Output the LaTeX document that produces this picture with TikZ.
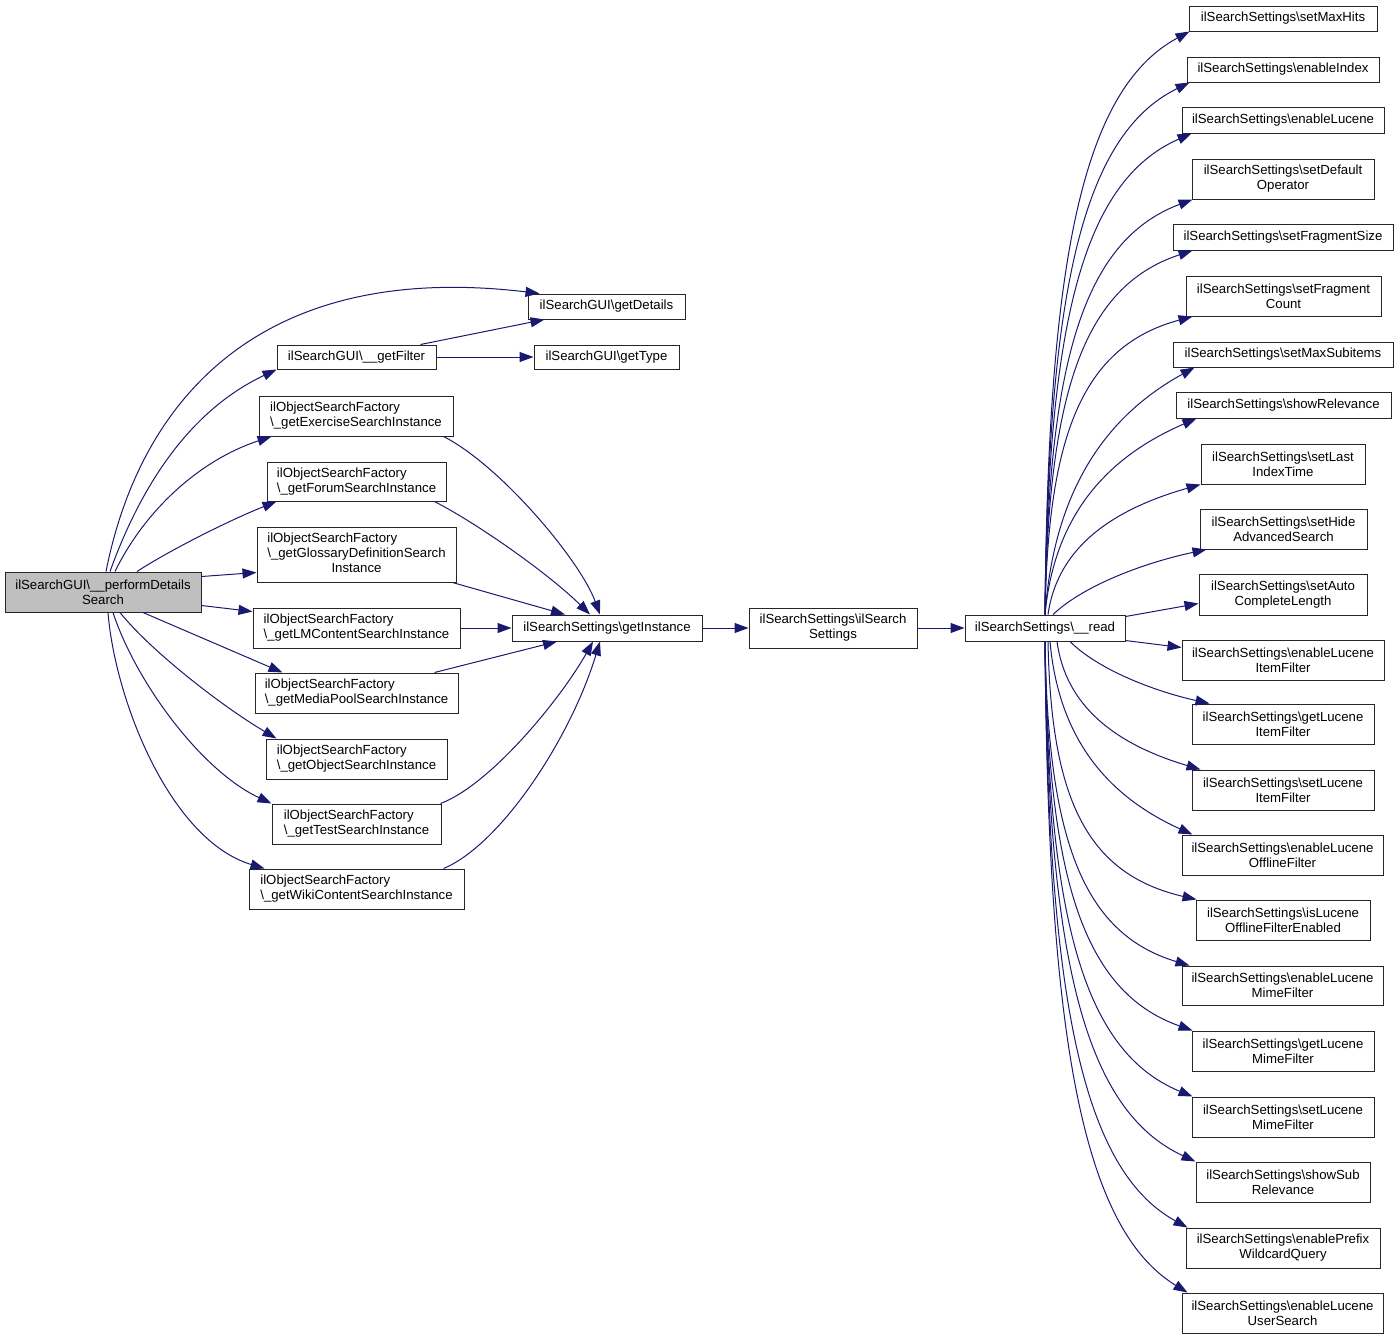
\documentclass[tikz,border=0pt]{standalone}
\usepackage{fontspec}
\setmainfont{Liberation Sans}
\usetikzlibrary{arrows.meta,calc}
\definecolor{edgec}{RGB}{25,25,112}
\definecolor{mainfill}{RGB}{191,191,191}
\newcommand\bksl{\textbackslash{}}
\tikzset{
  box/.style={draw=black!85, line width=1pt, inner sep=0pt, font=\fontsize{13.2}{15}\selectfont, align=center},
  lbox/.style={box, align=left},
  arr/.style={draw=edgec, line width=1pt, -{Triangle[length=14pt,width=10pt]}},
}
\newcommand\bx[7][box]{\node[#1, minimum width={(#5-#3)*1pt}, minimum height={(#6-#4)*1pt}] (#2) at ({(#3+#5)/2},{(#4+#6)/2}) {#7};}
\newcommand\crv[6]{\draw[arr] let \p1=(#1), \p2=(#2) in (\p1) .. controls ({\x1+#3*(\x2-\x1)},{\y1+#4*(\y2-\y1)}) and ({\x1+#5*(\x2-\x1)},{\y1+#6*(\y2-\y1)}) .. (\p2);}
\newcommand\fanL[2]{\crv{#1}{#2}{0.02}{0.6}{0.25}{0.9}}
\newcommand\fanM[2]{\crv{#1}{#2}{0.06}{0.5}{0.4}{0.8}}
\newcommand\fanS[2]{\crv{#1}{#2}{0.2}{0.45}{0.6}{0.8}}
\begin{document}
\begin{tikzpicture}[x=1pt,y=-1pt]
\useasboundingbox (0,0) rectangle (1399,1339);
% left and middle nodes
\bx[box,fill=mainfill]{main}{5}{572}{201}{612}{ilSearchGUI\bksl\_\_performDetails\\Search}
\bx{getDetails}{528}{294}{685}{319}{ilSearchGUI\bksl getDetails}
\bx{getFilter}{277}{345}{436}{369}{ilSearchGUI\bksl\_\_getFilter}
\bx{getType}{534}{345}{679}{369}{ilSearchGUI\bksl getType}
\bx[lbox]{getExercise}{259}{396}{453}{436}{ilObjectSearchFactory\\\bksl\_getExerciseSearchInstance}
\bx[lbox]{getForum}{267}{462}{446}{501}{ilObjectSearchFactory\\\bksl\_getForumSearchInstance}
\bx{getGlossary}{257}{527}{456}{582}{\begin{tabular}{@{}l@{}}ilObjectSearchFactory\\\bksl\_getGlossaryDefinitionSearch\\\multicolumn{1}{@{}c@{}}{Instance}\end{tabular}}
\bx[lbox]{getLM}{253}{608}{460}{648}{ilObjectSearchFactory\\\bksl\_getLMContentSearchInstance}
\bx[lbox]{getMedia}{255}{673}{458}{713}{ilObjectSearchFactory\\\bksl\_getMediaPoolSearchInstance}
\bx[lbox]{getObject}{266}{739}{447}{779}{ilObjectSearchFactory\\\bksl\_getObjectSearchInstance}
\bx[lbox]{getTest}{272}{804}{441}{844}{ilObjectSearchFactory\\\bksl\_getTestSearchInstance}
\bx[lbox]{getWiki}{249}{869}{464}{909}{ilObjectSearchFactory\\\bksl\_getWikiContentSearchInstance}
\bx{getInstance}{512}{615}{702}{641}{ilSearchSettings\bksl getInstance}
\bx{ilss}{749}{608}{917}{648}{ilSearchSettings\bksl ilSearch\\Settings}
\bx{read}{965}{615}{1125}{641}{ilSearchSettings\bksl\_\_read}
% right column
\bx{t01}{1189}{6}{1377}{31}{ilSearchSettings\bksl setMaxHits}
\bx{t02}{1187}{57}{1379}{82}{ilSearchSettings\bksl enableIndex}
\bx{t03}{1182}{107}{1384}{133}{ilSearchSettings\bksl enableLucene}
\bx{t04}{1192}{159}{1374}{199}{ilSearchSettings\bksl setDefault\\Operator}
\bx{t05}{1173}{224}{1393}{250}{ilSearchSettings\bksl setFragmentSize}
\bx{t06}{1186}{276}{1381}{316}{ilSearchSettings\bksl setFragment\\Count}
\bx{t07}{1173}{342}{1393}{367}{ilSearchSettings\bksl setMaxSubitems}
\bx{t08}{1176}{392}{1391}{418}{ilSearchSettings\bksl showRelevance}
\bx{t09}{1201}{444}{1365}{484}{ilSearchSettings\bksl setLast\\IndexTime}
\bx{t10}{1200}{509}{1367}{549}{ilSearchSettings\bksl setHide\\AdvancedSearch}
\bx{t11}{1199}{574}{1367}{615}{ilSearchSettings\bksl setAuto\\CompleteLength}
\bx{t12}{1182}{640}{1384}{680}{ilSearchSettings\bksl enableLucene\\ItemFilter}
\bx{t13}{1192}{704}{1374}{744}{ilSearchSettings\bksl getLucene\\ItemFilter}
\bx{t14}{1192}{770}{1374}{810}{ilSearchSettings\bksl setLucene\\ItemFilter}
\bx{t15}{1182}{835}{1383}{875}{ilSearchSettings\bksl enableLucene\\OfflineFilter}
\bx{t16}{1196}{900}{1370}{940}{ilSearchSettings\bksl isLucene\\OfflineFilterEnabled}
\bx{t17}{1182}{966}{1383}{1005}{ilSearchSettings\bksl enableLucene\\MimeFilter}
\bx{t18}{1192}{1031}{1374}{1071}{ilSearchSettings\bksl getLucene\\MimeFilter}
\bx{t19}{1192}{1097}{1374}{1137}{ilSearchSettings\bksl setLucene\\MimeFilter}
\bx{t20}{1196}{1162}{1370}{1202}{ilSearchSettings\bksl showSub\\Relevance}
\bx{t21}{1186}{1228}{1380}{1268}{ilSearchSettings\bksl enablePrefix\\WildcardQuery}
\bx{t22}{1182}{1293}{1383}{1333}{ilSearchSettings\bksl enableLucene\\UserSearch}
% edges from main
\draw[arr] ([xshift=3pt]main.north) .. controls (140,400) and (260,260) .. ([xshift=12pt]getDetails.north west);
\draw[arr] ([xshift=7pt]main.north) .. controls (143,480) and (193,409) .. (getFilter.south west);
\draw[arr] ([xshift=12pt]main.north) .. controls (145,510) and (200,460) .. ([xshift=13pt]getExercise.south west);
\draw[arr] ([xshift=34pt]main.north) .. controls (170,550) and (230,520) .. ([xshift=10pt]getForum.south west);
\draw[arr] ([yshift=-5pt]main.north east) -- ([yshift=10pt]getGlossary.south west);
\draw[arr] ([yshift=7pt]main.south east) -- ([yshift=-4pt]getLM.north west);
\draw[arr] ([xshift=40pt]main.south) -- ([xshift=28pt]getMedia.north west);
\draw[arr] ([xshift=17pt]main.south) .. controls (150,650) and (220,705) .. ([xshift=11pt]getObject.north west);
\draw[arr] ([xshift=10pt]main.south) .. controls (135,680) and (200,770) .. (getTest.north west);
\draw[arr] ([xshift=5pt]main.south) .. controls (115,700) and (170,840) .. ([xshift=16pt]getWiki.north west);
% getFilter
\draw[arr] ([xshift=-16pt]getFilter.north east) -- ([xshift=17pt]getDetails.south west);
\draw[arr] (getFilter.east) -- (getType.west);
% into getInstance
\draw[arr] ([xshift=-10pt]getExercise.south east) .. controls (500,465) and (580,560) .. ([xshift=-7pt]getInstance.north);
\draw[arr] ([xshift=-12pt]getForum.south east) .. controls (480,525) and (550,575) .. ([xshift=-17pt]getInstance.north);
\draw[arr] ([xshift=-4pt]getGlossary.south east) -- ([xshift=-42pt]getInstance.north);
\draw[arr] (getLM.east) -- (getInstance.west);
\draw[arr] ([xshift=-24pt]getMedia.north east) -- ([xshift=-50pt]getInstance.south);
\draw[arr] ([xshift=-1pt]getTest.north east) .. controls (490,785) and (560,700) .. ([xshift=-14pt]getInstance.south);
\draw[arr] ([xshift=-21pt]getWiki.north east) .. controls (500,845) and (570,740) .. ([xshift=-7pt]getInstance.south);
% chain
\draw[arr] (getInstance.east) -- (ilss.west);
\draw[arr] (ilss.east) -- (read.west);
% fan upward
\fanL{read.north}{[xshift=1pt]t01.south west}
\fanL{read.north}{[xshift=3pt]t02.south west}
\fanL{read.north}{[xshift=10pt]t03.south west}
\fanL{read.north}{[xshift=1pt]t04.south west}
\fanL{read.north}{[xshift=20pt]t05.south west}
\fanL{read.north}{[xshift=7pt]t06.south west}
\fanM{read.north}{[xshift=22pt]t07.south west}
\fanM{read.north}{[xshift=21pt]t08.south west}
\fanM{[xshift=3pt]read.north}{t09.south west}
\fanS{[xshift=8pt]read.north}{[xshift=7pt]t10.south west}
\draw[arr] ([yshift=-2pt]read.north east) -- ([yshift=12pt]t11.south west);
\draw[arr] ([yshift=1pt]read.south east) -- ([yshift=-8pt]t12.north west);
% fan downward
\fanS{[xshift=25pt]read.south}{[xshift=18pt]t13.north west}
\fanM{[xshift=12pt]read.south}{[xshift=9pt]t14.north west}
\fanM{[xshift=5pt]read.south}{[xshift=11pt]t15.north west}
\fanL{[xshift=3pt]read.south}{[xshift=1pt]t16.north west}
\fanL{read.south}{[xshift=8pt]t17.north west}
\fanL{read.south}{[xshift=1pt]t18.north west}
\fanL{read.south}{[xshift=1pt]t19.north west}
\fanL{read.south}{t20.north west}
\fanL{read.south}{[xshift=2pt]t21.north west}
\fanL{read.south}{[xshift=6pt]t22.north west}
\end{tikzpicture}
\end{document}
